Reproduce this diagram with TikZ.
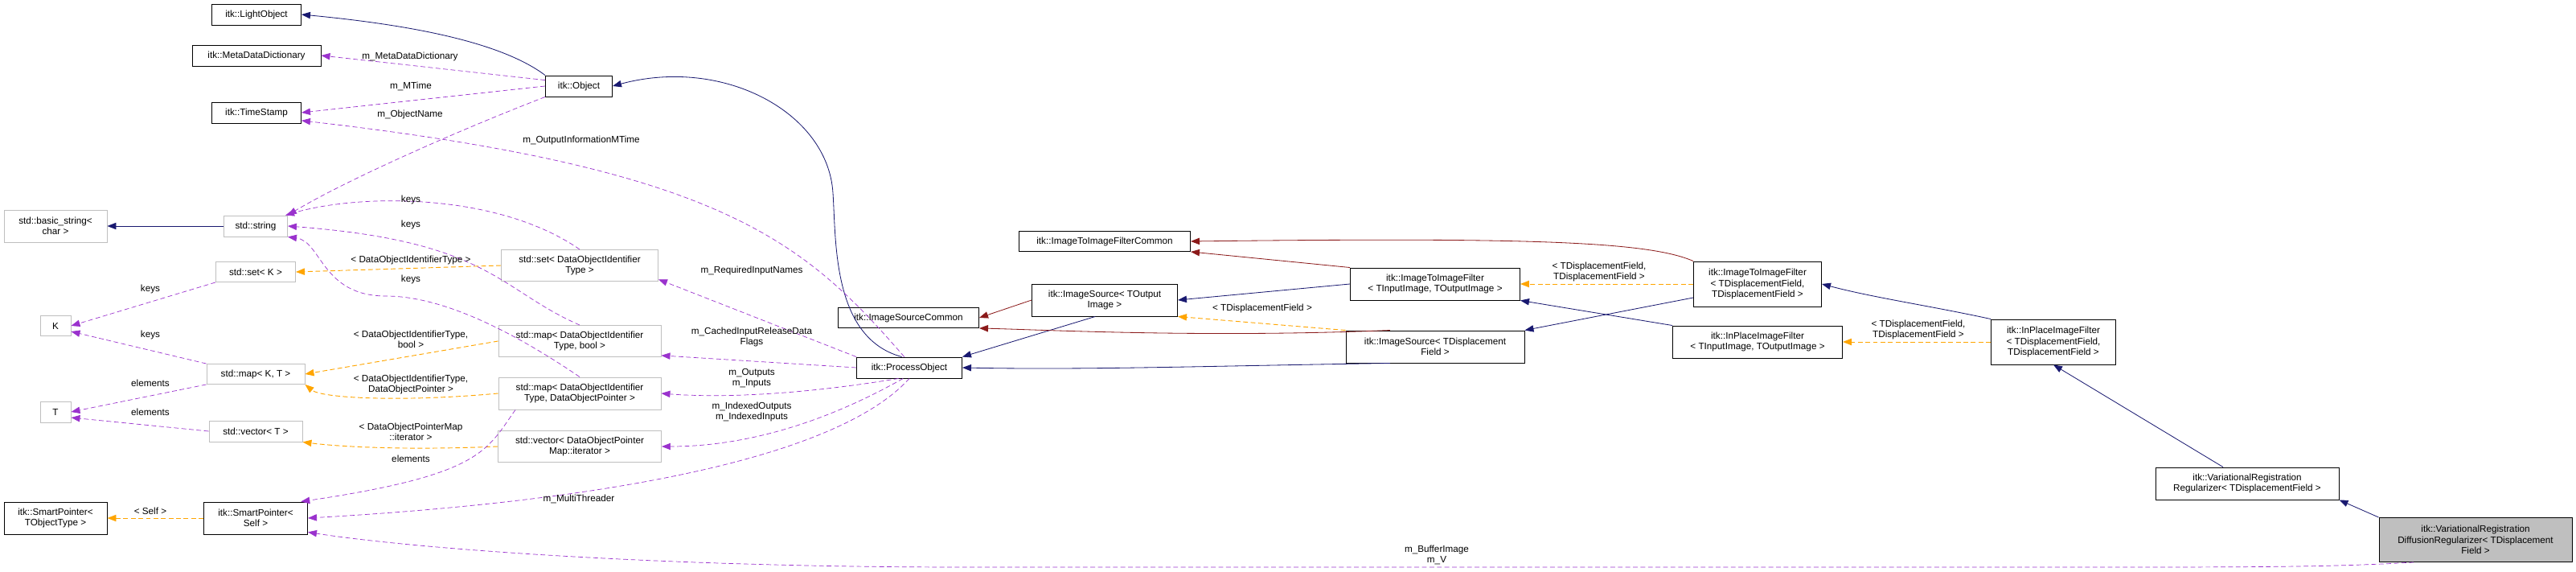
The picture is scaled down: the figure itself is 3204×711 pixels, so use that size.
\documentclass[tikz,border=0pt]{standalone}
\usepackage{fontspec}
\setmainfont{Liberation Sans}
\usetikzlibrary{arrows.meta}
\definecolor{nav}{HTML}{191970}
\definecolor{drd}{HTML}{8B1A1A}
\definecolor{org}{HTML}{FFA500}
\definecolor{pur}{HTML}{9A32CD}
\definecolor{gbd}{HTML}{BFBFBF}
\begin{document}
\begin{tikzpicture}[x=0.03cm,y=-0.03cm,font=\fontsize{10}{11.5}\selectfont,
  bx/.style={draw=black,line width=0.8pt,inner sep=1pt,align=center,fill=white},
  gb/.style={draw=gbd,line width=0.8pt,inner sep=1pt,align=center,fill=white},
  tip/.style={-{Triangle[length=0.33cm,width=0.25cm]}},
  inh/.style={tip,draw=nav,line width=0.7pt},
  pin/.style={tip,draw=drd,line width=0.7pt},
  tmp/.style={tip,draw=org,line width=0.8pt,dash pattern=on 5pt off 3pt},
  use/.style={tip,draw=pur,line width=0.6pt,dash pattern=on 5pt off 3pt},
  lb/.style={align=center,inner sep=0pt}]
\useasboundingbox (0,0) rectangle (3204,711);
\newcommand{\bxn}[6]{\node[#1,minimum width=#4*0.03cm,minimum height=#5*0.03cm] (#2) at #3 {#6};}
\bxn{bx}{lo}{(319,18)}{111}{26}{itk::LightObject}
\bxn{bx}{mdd}{(319,69)}{160}{26}{itk::MetaDataDictionary}
\bxn{bx}{ts}{(319,140)}{111}{26}{itk::TimeStamp}
\bxn{gb}{bs}{(69,281)}{128}{40}{std::basic\_string\textless\\ char \textgreater}
\bxn{gb}{str}{(318,281)}{79}{26}{std::string}
\bxn{gb}{setk}{(318,338)}{99}{25}{std::set\textless{} K \textgreater}
\bxn{gb}{k}{(69,405)}{38}{25}{K}
\bxn{gb}{mapkt}{(318,465)}{122}{25}{std::map\textless{} K, T \textgreater}
\bxn{gb}{t}{(69,512)}{38}{26}{T}
\bxn{gb}{vect}{(318,536)}{116}{26}{std::vector\textless{} T \textgreater}
\bxn{bx}{spt}{(69,644)}{128}{40}{itk::SmartPointer\textless\\ TObjectType \textgreater}
\bxn{bx}{sps}{(318,644)}{129}{40}{itk::SmartPointer\textless\\ Self \textgreater}
\bxn{bx}{obj}{(720,107)}{83}{26}{itk::Object}
\bxn{gb}{setd}{(721,330)}{195}{39}{std::set\textless{} DataObjectIdentifier\\ Type \textgreater}
\bxn{gb}{mapb}{(721,424)}{202}{39}{std::map\textless{} DataObjectIdentifier\\ Type, bool \textgreater}
\bxn{gb}{mapp}{(721,489)}{202}{40}{std::map\textless{} DataObjectIdentifier\\ Type, DataObjectPointer \textgreater}
\bxn{gb}{vecp}{(721,555)}{203}{39}{std::vector\textless{} DataObjectPointer\\ Map::iterator \textgreater}
\bxn{bx}{po}{(1131,457)}{131}{26}{itk::ProcessObject}
\bxn{bx}{isc}{(1130,395)}{175}{25}{itk::ImageSourceCommon}
\bxn{bx}{itifc}{(1374,300)}{213}{25}{itk::ImageToImageFilterCommon}
\bxn{bx}{iso}{(1374,373)}{181}{40}{itk::ImageSource\textless{} TOutput\\ Image \textgreater}
\bxn{bx}{itif}{(1785,353)}{211}{40}{itk::ImageToImageFilter\\ \textless{} TInputImage, TOutputImage \textgreater}
\bxn{bx}{isd}{(1785,431)}{222}{40}{itk::ImageSource\textless{} TDisplacement\\ Field \textgreater}
\bxn{bx}{itifd}{(2186,353)}{159}{56}{itk::ImageToImageFilter\\ \textless{} TDisplacementField,\\ TDisplacementField \textgreater}
\bxn{bx}{ipf}{(2186,425)}{211}{40}{itk::InPlaceImageFilter\\ \textless{} TInputImage, TOutputImage \textgreater}
\bxn{bx}{ipfd}{(2554,425)}{155}{56}{itk::InPlaceImageFilter\\ \textless{} TDisplacementField,\\ TDisplacementField \textgreater}
\bxn{bx}{vrr}{(2795,601)}{228}{40}{itk::VariationalRegistration\\ Regularizer\textless{} TDisplacementField \textgreater}
\bxn{bx,fill=gbd}{vdr}{(3079,671)}{240}{55}{itk::VariationalRegistration\\ DiffusionRegularizer\textless{} TDisplacement\\ Field \textgreater}
% inheritance
\draw[inh] (obj.north west) .. controls (620,50) and (500,30) .. (lo.east);
\draw[inh] (str.west) -- (bs.east);
\draw[inh] (po.125) .. controls (1035,420) and (1040,300) .. (1036,240) .. controls (1030,140) and (900,70) .. (obj.east);
\draw[inh] (iso.240) -- (po.north east);
\draw[inh] (isd.200) .. controls (1500,455) and (1350,460) .. (po.east);
\draw[inh] (itif.west) -- (iso.east);
\draw[inh] (itifd.west |- 0,370) -- (isd.north east);
\draw[inh] (ipf.north west) -- (itif.south east);
\draw[inh] (ipfd.north west) .. controls (2400,380) and (2330,370) .. (itifd.east);
\draw[inh] (vrr.north) ++(-30,0) -- (ipfd.south);
\draw[inh] (vdr.north west) -- (vrr.south east);
% private/protected
\draw[pin] (iso.west) -- (isc.east);
\draw[pin] (isd.160) .. controls (1500,420) and (1300,410) .. (isc.south east);
\draw[pin] (itif.north west) -- (itifc.south east);
\draw[pin] (itifd.north west) .. controls (2050,300) and (1900,295) .. (itifc.east);
% templates
\draw[tmp] (setd.west) -- (setk.east);
\draw[tmp] (mapb.west) -- (mapkt.east);
\draw[tmp] (mapp.west) .. controls (500,500) and (400,495) .. (mapkt.south east);
\draw[tmp] (vecp.west) .. controls (500,560) and (420,555) .. (vect.south east);
\draw[tmp] (sps.west) -- (spt.east);
\draw[tmp] (isd.north west) -- (iso.south east);
\draw[tmp] (itifd.west) -- (itif.east);
\draw[tmp] (ipfd.west) -- (ipf.east);
% usage
\draw[use] (obj.170) -- (mdd.east);
\draw[use] (obj.west) -- (ts.east);
\draw[use] (obj.south west) .. controls (550,170) and (420,230) .. (str.north east);
\draw[use] (po.115) .. controls (1000,300) and (900,210) .. (ts.-10);
\draw[use] (setd.north) .. controls (620,240) and (450,240) .. (str.20);
\draw[use] (mapb.north) .. controls (620,360) and (610,300) .. (str.east);
\draw[use] (mapp.north) .. controls (620,400) and (540,368) .. (480,368) .. controls (400,368) and (400,300) .. (str.south east);
\draw[use] (setk.south west) -- (k.east);
\draw[use] (mapkt.north west) -- (k.-20);
\draw[use] (mapkt.south west) -- (t.east);
\draw[use] (vect.west) -- (t.-20);
\draw[use] (mapp.south) ++(-80,0) .. controls (605,560) and (600,590) .. (sps.20);
\draw[use] (po.south) .. controls (1050,560) and (800,620) .. (sps.east);
\draw[use] (vdr.200) .. controls (2900,705) and (2800,705) .. (2600,705) -- (1200,705) .. controls (800,705) and (500,680) .. (sps.-15);
\draw[use] (po.north west) -- (setd.-10);
\draw[use] (po.west) -- (mapb.-10);
\draw[use] (po.-135) .. controls (1000,490) and (900,495) .. (mapp.east);
\draw[use] (po.-120) .. controls (1000,540) and (900,555) .. (vecp.east);
% labels
\node[lb] (l1) at (510,70) {m\_MetaDataDictionary};
\node[lb] (l2) at (511,107) {m\_MTime};
\node[lb] (l3) at (510,142) {m\_ObjectName};
\node[lb] (l4) at (723,174) {m\_OutputInformationMTime};
\node[lb] (l5) at (511,248) {keys};
\node[lb] (l6) at (511,279) {keys};
\node[lb] (l7) at (511,323) {\textless{} DataObjectIdentifierType \textgreater};
\node[lb] (l8) at (511,347) {keys};
\node[lb] (l9) at (187,359) {keys};
\node[lb] (l10) at (187,416) {keys};
\node[lb] (l11) at (187,476) {elements};
\node[lb] (l12) at (187,512) {elements};
\node[lb] (l13) at (511,422) {\textless{} DataObjectIdentifierType,\\ bool \textgreater};
\node[lb] (l14) at (511,478) {\textless{} DataObjectIdentifierType,\\ DataObjectPointer \textgreater};
\node[lb] (l15) at (511,537) {\textless{} DataObjectPointerMap\\ ::iterator \textgreater};
\node[lb] (l16) at (511,570) {elements};
\node[lb] (l17) at (187,635) {\textless{} Self \textgreater};
\node[lb] (l18) at (720,620) {m\_MultiThreader};
\node[lb] (l19) at (935,336) {m\_RequiredInputNames};
\node[lb] (l20) at (935,419) {m\_CachedInputReleaseData\\ Flags};
\node[lb] (l21) at (935,470) {m\_Outputs\\ m\_Inputs};
\node[lb] (l22) at (935,512) {m\_IndexedOutputs\\ m\_IndexedInputs};
\node[lb] (l23) at (1570,383) {\textless{} TDisplacementField \textgreater};
\node[lb] (l24) at (1989,338) {\textless{} TDisplacementField,\\ TDisplacementField \textgreater};
\node[lb] (l25) at (2386,410) {\textless{} TDisplacementField,\\ TDisplacementField \textgreater};
\node[lb] (l26) at (1787,690) {m\_BufferImage\\ m\_V};
\end{tikzpicture}
\end{document}
